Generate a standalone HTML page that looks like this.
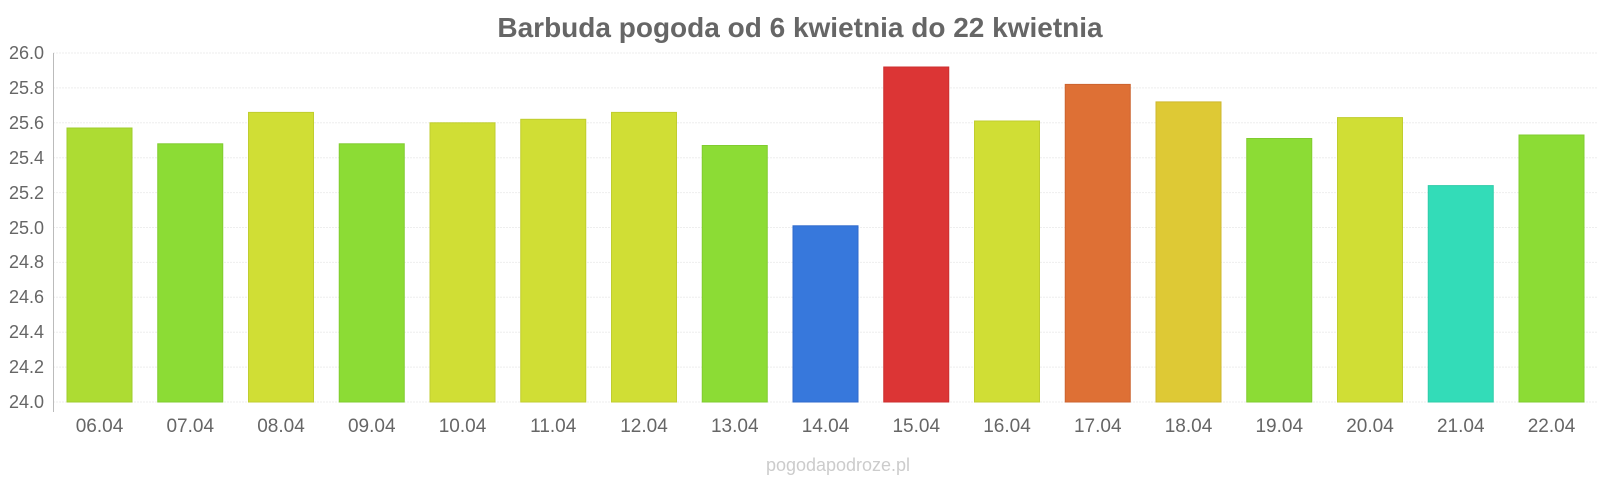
<!DOCTYPE html>
<html><head><meta charset="utf-8"><style>html,body{margin:0;padding:0;background:#fff}svg{display:block}</style></head><body>
<svg width="1600" height="480" xmlns="http://www.w3.org/2000/svg" font-family="Liberation Sans, sans-serif">
<text x="800" y="37" text-anchor="middle" font-size="28" font-weight="bold" fill="#666">Barbuda pogoda od 6 kwietnia do 22 kwietnia</text>
<g stroke="#eee" stroke-width="1" stroke-dasharray="2,1">
<line x1="53" x2="1597" y1="53" y2="53"/><line x1="53" x2="1597" y1="87.9" y2="87.9"/><line x1="53" x2="1597" y1="122.8" y2="122.8"/><line x1="53" x2="1597" y1="157.7" y2="157.7"/><line x1="53" x2="1597" y1="192.6" y2="192.6"/><line x1="53" x2="1597" y1="227.5" y2="227.5"/><line x1="53" x2="1597" y1="262.4" y2="262.4"/><line x1="53" x2="1597" y1="297.3" y2="297.3"/><line x1="53" x2="1597" y1="332.2" y2="332.2"/><line x1="53" x2="1597" y1="367.1" y2="367.1"/><line x1="53" x2="1597" y1="402" y2="402"/>
</g>
<line x1="53.5" x2="53.5" y1="53" y2="412" stroke="#bbb"/>
<g font-size="18" fill="#666" text-anchor="end">
<text x="44" y="59">26.0</text><text x="44" y="94">25.8</text><text x="44" y="129">25.6</text><text x="44" y="164">25.4</text><text x="44" y="199">25.2</text><text x="44" y="234">25.0</text><text x="44" y="268">24.8</text><text x="44" y="303">24.6</text><text x="44" y="338">24.4</text><text x="44" y="373">24.2</text><text x="44" y="408">24.0</text>
</g>
<text x="838" y="471" text-anchor="middle" font-size="18" fill="#ccc">pogodapodroze.pl</text>
<g>
<rect x="67" y="128.0" width="65" height="274.0" fill="#addc33" stroke="#9fcc2d"/>
<rect x="157.75" y="143.8" width="65" height="258.2" fill="#8cdc35" stroke="#80cc2f"/>
<rect x="248.5" y="112.4" width="65" height="289.6" fill="#d0de35" stroke="#c0cd2f"/>
<rect x="339.25" y="143.8" width="65" height="258.2" fill="#8cdc35" stroke="#80cc2f"/>
<rect x="430" y="122.8" width="65" height="279.2" fill="#d0de35" stroke="#c0cd2f"/>
<rect x="520.75" y="119.3" width="65" height="282.7" fill="#d0de35" stroke="#c0cd2f"/>
<rect x="611.5" y="112.4" width="65" height="289.6" fill="#d0de35" stroke="#c0cd2f"/>
<rect x="702.25" y="145.5" width="65" height="256.5" fill="#8cdc35" stroke="#80cc2f"/>
<rect x="793" y="225.8" width="65" height="176.2" fill="#3778dc" stroke="#2f6acc"/>
<rect x="883.75" y="67.0" width="65" height="335.0" fill="#dc3535" stroke="#cc2f2f"/>
<rect x="974.5" y="121.0" width="65" height="281.0" fill="#d0de35" stroke="#c0cd2f"/>
<rect x="1065.25" y="84.4" width="65" height="317.6" fill="#de7035" stroke="#cc632f"/>
<rect x="1156" y="101.9" width="65" height="300.1" fill="#dec935" stroke="#cdb82f"/>
<rect x="1246.75" y="138.5" width="65" height="263.5" fill="#8cdc35" stroke="#80cc2f"/>
<rect x="1337.5" y="117.6" width="65" height="284.4" fill="#d0de35" stroke="#c0cd2f"/>
<rect x="1428.25" y="185.6" width="65" height="216.4" fill="#33dcb8" stroke="#2fcca9"/>
<rect x="1519" y="135.0" width="65" height="267.0" fill="#8cdc35" stroke="#80cc2f"/>
</g>
<g font-size="19" fill="#666" text-anchor="middle">
<text x="99.5" y="432">06.04</text><text x="190.25" y="432">07.04</text><text x="281" y="432">08.04</text><text x="371.75" y="432">09.04</text><text x="462.5" y="432">10.04</text><text x="553.25" y="432">11.04</text><text x="644" y="432">12.04</text><text x="734.75" y="432">13.04</text><text x="825.5" y="432">14.04</text><text x="916.25" y="432">15.04</text><text x="1007" y="432">16.04</text><text x="1097.75" y="432">17.04</text><text x="1188.5" y="432">18.04</text><text x="1279.25" y="432">19.04</text><text x="1370" y="432">20.04</text><text x="1460.75" y="432">21.04</text><text x="1551.5" y="432">22.04</text>
</g>
</svg>
</body></html>
